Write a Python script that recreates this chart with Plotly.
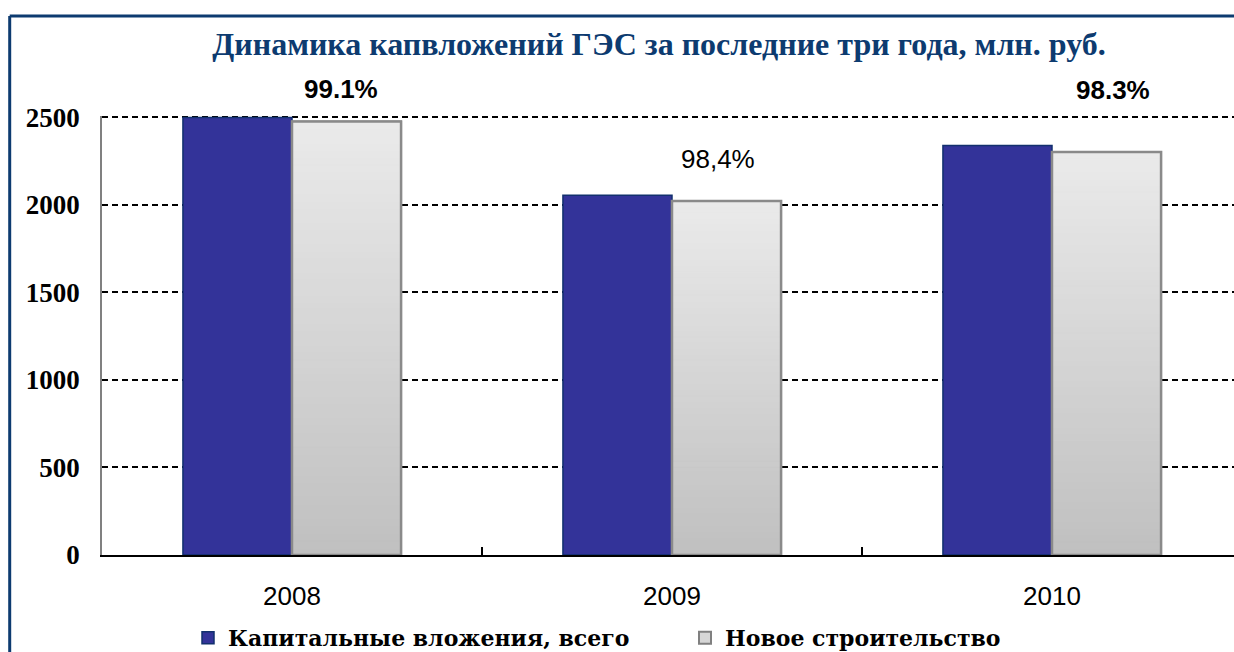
import plotly.graph_objects as go

# ---- data ----
years = ["2008", "2009", "2010"]
capital_total = [2500, 2055, 2340]      # Капитальные вложения, всего
new_construction = [2477, 2022, 2302]   # Новое строительство
share_labels = ["99.1%", "98,4%", "98.3%"]
share_bold = [True, False, True]

series_names = ["Капитальные вложения, всего", "Новое строительство"]
title_text = "Динамика капвложений ГЭС за последние три года, млн. руб."

# ---- layout geometry ----
W, H = 1234, 652
ML, MR, MT, MB = 102, 0, 116, 97
plot_w = W - ML - MR
plot_h = H - MT - MB
cat_px = 380.0                      # width of one category slot in px
x_range = [-0.5, -0.5 + plot_w / cat_px]
Y_TOP = 2508                        # a little headroom so the 2500 gridline is drawn

# label placement (offset in category units, height in value units)
label_dx = [0.13, 0.12, 0.16]
label_y = [2660, 2265, 2655]

NAVY = "#0D3B70"
BLUE = "#333399"
SERIF = "Liberation Serif"
WIDE_SERIF = "DejaVu Serif"
SANS = "Liberation Sans"

fig = go.Figure()

# blue series
fig.add_trace(go.Bar(
    x=years, y=capital_total, name=series_names[0], offsetgroup="a",
    marker=dict(color=BLUE, line=dict(color="#12306E", width=1.5)),
    hoverinfo="skip",
))

# gray series: legend/base trace
fig.add_trace(go.Bar(
    x=years, y=new_construction, name=series_names[1], offsetgroup="b",
    marker=dict(color="#D6D6D6", line=dict(color="#808080", width=2)),
    hoverinfo="skip",
))

# gradient fill (light at top, darker at bottom) built as slices of each bar
N = 60
top_c, bot_c = 234, 192
for i in range(N):
    t = i / (N - 1)
    g = round(bot_c + (top_c - bot_c) * t)
    col = f"rgb({g},{g},{g})"
    fig.add_trace(go.Bar(
        x=years,
        y=[v / N for v in new_construction],
        base=[v * i / N for v in new_construction],
        offsetgroup="b",
        marker=dict(color=col, line=dict(color=col, width=1)),
        showlegend=False, hoverinfo="skip",
    ))

# outline on top
fig.add_trace(go.Bar(
    x=years, y=new_construction, offsetgroup="b",
    marker=dict(color="rgba(0,0,0,0)", line=dict(color="#8A8A8A", width=2.5)),
    showlegend=False, hoverinfo="skip",
))

# percentage labels
for i, (lab, b) in enumerate(zip(share_labels, share_bold)):
    fig.add_annotation(
        x=i + label_dx[i], y=label_y[i] / Y_TOP, xref="x", yref="y domain",
        text=lab, showarrow=False, xanchor="center", yanchor="middle",
        font=dict(family=SANS, size=26, color="black",
                  weight="bold" if b else "normal"),
    )

# outer frame (only left and top edges are inside the picture)
fx0 = (9.7 - ML) / plot_w
fy1 = (H - MB - 16) / plot_h
fig.add_shape(type="line", xref="paper", yref="paper",
              x0=fx0, x1=fx0, y0=-0.5, y1=fy1,
              line=dict(color=NAVY, width=3), layer="above")
fig.add_shape(type="line", xref="paper", yref="paper",
              x0=fx0, x1=1.1, y0=fy1, y1=fy1,
              line=dict(color=NAVY, width=3), layer="above")

fig.update_layout(
    width=W, height=H,
    margin=dict(l=ML, r=MR, t=MT, b=MB, pad=0, autoexpand=False),
    paper_bgcolor="white", plot_bgcolor="white",
    barmode="group", bargap=0.426, bargroupgap=0,
    title=dict(
        text=title_text, x=659 / W, xref="container", xanchor="center",
        y=1 - 44 / H, yref="container", yanchor="middle",
        font=dict(family=SERIF, size=32, color=NAVY, weight="bold"),
    ),
    legend=dict(
        orientation="h", x=(188 - ML) / plot_w, xanchor="left",
        y=(H - MB - 638) / plot_h, yanchor="middle",
        entrywidth=452, entrywidthmode="pixels",
        font=dict(family=WIDE_SERIF, size=22, color="black", weight="bold"),
        bgcolor="rgba(0,0,0,0)", borderwidth=0,
    ),
    xaxis=dict(
        type="category", categoryorder="array", categoryarray=years,
        range=x_range, showgrid=False, zeroline=False,
        showline=True, linecolor="black", linewidth=2,
        ticks="inside", tickson="boundaries", ticklen=8,
        tickcolor="black", tickwidth=1.5,
        ticklabelstandoff=17,
        tickfont=dict(family=SANS, size=26, color="black"),
    ),
    yaxis=dict(
        range=[0, Y_TOP], tickvals=[0, 500, 1000, 1500, 2000, 2500],
        showgrid=True, gridcolor="black", gridwidth=1.5, griddash="6px,4px",
        zeroline=False, showline=True, linecolor="#808080", linewidth=1.5,
        ticks="", ticklabelstandoff=15,
        tickfont=dict(family=SERIF, size=27, color="black", weight="bold"),
    ),
    showlegend=True,
)

fig.write_html(
    "out.html",
    config={"displayModeBar": False},
    post_script="document.documentElement.style.overflow='hidden';"
                "document.body.style.margin='0';document.body.style.overflow='hidden';",
)
